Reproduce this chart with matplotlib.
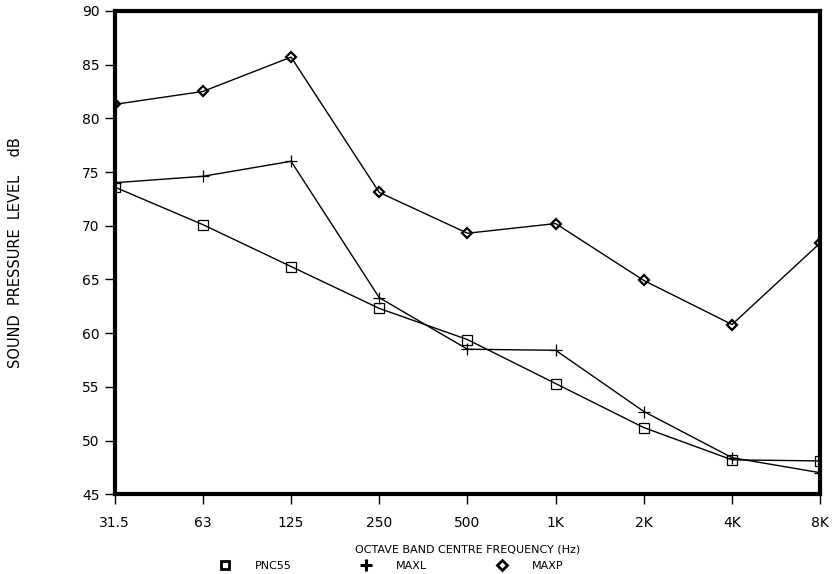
import matplotlib.pyplot as plt
from matplotlib.lines import Line2D

# octave band centre frequencies
bands = ["31.5", "63", "125", "250", "500", "1K", "2K", "4K", "8K"]

# sound pressure levels, dB
pnc55 = [73.6, 70.1, 66.2, 62.3, 59.4, 55.3, 51.2, 48.2, 48.1]
maxl = [74.0, 74.6, 76.0, 63.3, 58.5, 58.4, 52.7, 48.4, 47.0]
maxp = [81.3, 82.5, 85.7, 73.1, 69.3, 70.2, 64.9, 60.8, 68.4]

yticks = [45, 50, 55, 60, 65, 70, 75, 80, 85, 90]

plt.rcParams['font.family'] = ['DejaVu Sans']

fig = plt.figure(figsize=(8.37, 5.74), dpi=100)
ax = fig.add_axes([0.137, 0.139, 0.843, 0.842])

x = range(len(bands))
ax.plot(x, pnc55, color='black', lw=1.0, marker='s', ms=7, mfc='none', mec='black', mew=0.9)
ax.plot(x, maxl, color='black', lw=1.0, marker='+', ms=8, mew=0.9)
ax.plot(x, maxp, color='black', lw=1.0, marker='D', ms=5, mfc='none', mec='black', mew=1.6)

ax.set_xlim(0, len(bands) - 1)
ax.set_ylim(45, 90)
ax.set_xticks(list(x))
ax.set_xticklabels(bands)
ax.set_yticks(yticks)
ax.tick_params(axis='both', direction='out', length=7, width=1, labelsize=10, colors='black')
ax.tick_params(axis='x', pad=9)
ax.tick_params(axis='y', pad=4)
for s in ax.spines.values():
    s.set_linewidth(3)

ax.set_ylabel("SOUND  PRESSURE  LEVEL    dB", fontsize=10.5, labelpad=42)
ax.set_xlabel("OCTAVE BAND CENTRE FREQUENCY (Hz)", fontsize=8, labelpad=10)

handles = [
    Line2D([], [], ls='none', marker='s', ms=6, mfc='white', mec='black', mew=2),
    Line2D([], [], ls='none', marker='+', ms=9, mec='black', mew=2.2),
    Line2D([], [], ls='none', marker='D', ms=5, mfc='white', mec='black', mew=2),
]
fig.legend(handles, ["PNC55", "MAXL", "MAXP"], loc='lower left', bbox_to_anchor=(0.25, -0.012),
           ncol=3, frameon=False, fontsize=8, handlelength=1, handletextpad=2.2, columnspacing=6.2)

fig.savefig("out.png", dpi=100)
